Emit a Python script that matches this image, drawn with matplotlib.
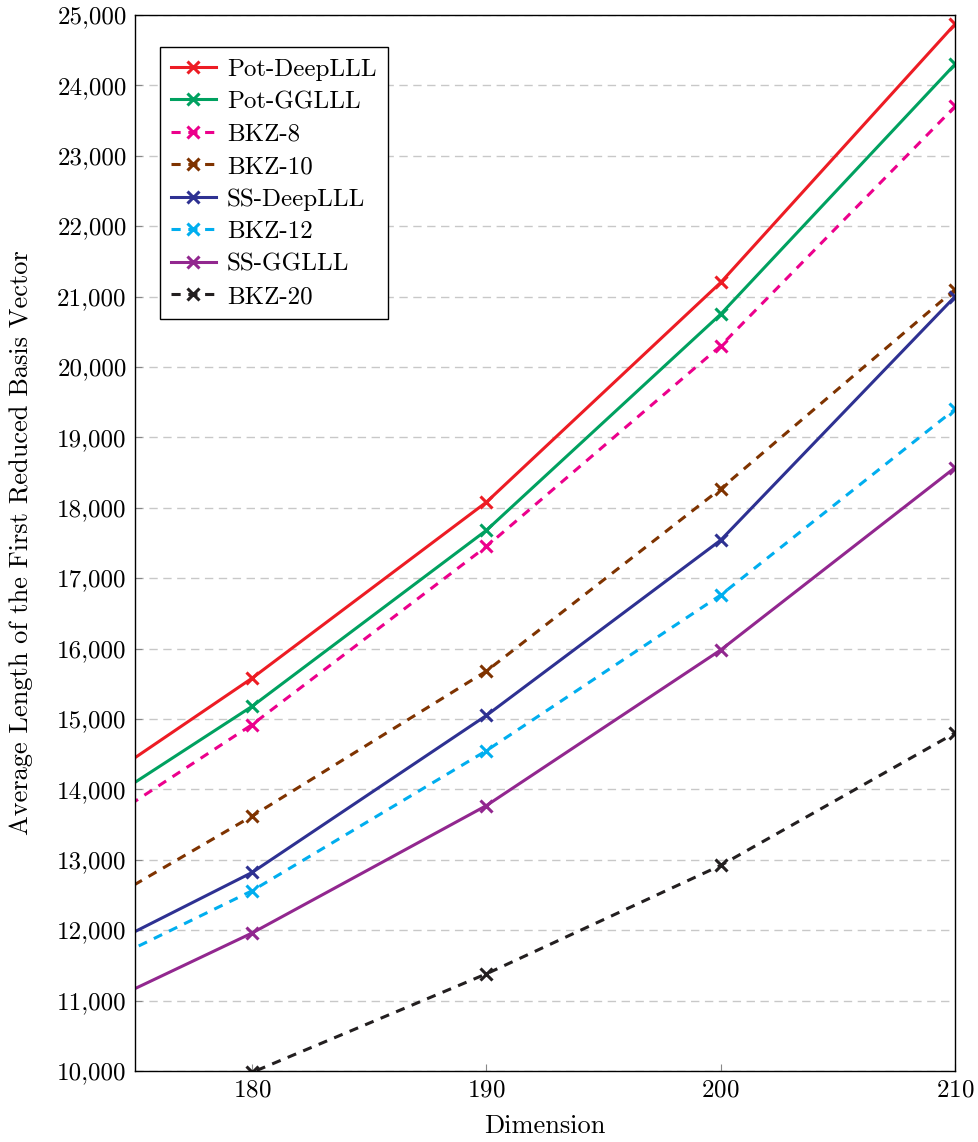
import matplotlib
matplotlib.use("Agg")
import matplotlib.pyplot as plt
from matplotlib.ticker import FuncFormatter

dims = [170, 180, 190, 200, 210]
labels = ["Pot-DeepLLL", "Pot-GGLLL", "BKZ-8", "BKZ-10", "SS-DeepLLL", "BKZ-12", "SS-GGLLL", "BKZ-20"]
pot_deeplll = [13320, 15580, 18080, 21200, 24870]
pot_gglll = [13020, 15180, 17680, 20750, 24300]
bkz8 = [12740, 14920, 17450, 20300, 23700]
bkz10 = [11680, 13620, 15680, 18270, 21100]
ss_deeplll = [11140, 12820, 15050, 17540, 21000]
bkz12 = [10940, 12560, 14550, 16760, 19400]
ss_gglll = [10380, 11960, 13770, 15980, 18570]
bkz20 = [8700, 9980, 11380, 12920, 14800]

series = [pot_deeplll, pot_gglll, bkz8, bkz10, ss_deeplll, bkz12, ss_gglll, bkz20]
colors = ["#ED1C24", "#00A160", "#EC008C", "#7F3300", "#2E3192", "#00AEEF", "#92278F", "#231F20"]
styles = ["-", "-", "--", "--", "-", "--", "-", "--"]

plt.rcParams['font.family'] = ['cmr10', 'DejaVu Serif']
plt.rcParams['axes.formatter.use_mathtext'] = True
plt.rcParams['mathtext.fontset'] = 'cm'

fig = plt.figure(figsize=(9.79, 11.42), dpi=100)
ax = fig.add_axes([0.1379, 0.0622, 0.9755 - 0.1379, 0.9869 - 0.0622])

for y, lab, c, ls in zip(series, labels, colors, styles):
    kw = dict(dashes=(3, 2.5)) if ls == "--" else {}
    ax.plot(dims, y, color=c, linestyle=ls, linewidth=2.2, marker='x', markersize=9,
            markeredgewidth=2.2, label=lab, **kw)

ax.set_xlim(175, 210)
ax.set_ylim(10000, 25000)
ax.set_xticks([180, 190, 200, 210])
ax.set_yticks(range(10000, 25001, 1000))
ax.yaxis.set_major_formatter(FuncFormatter(lambda v, p: f"{int(v):,}"))
ax.grid(axis='y', linestyle=(0, (6, 4)), color='#c8c8c8', linewidth=1)
ax.set_axisbelow(True)
ax.tick_params(direction='in', labelsize=18, length=5, color='#888888', pad=6)
for s in ax.spines.values():
    s.set_linewidth(1)
ax.set_xlabel("Dimension", fontsize=19, labelpad=9)
ax.set_ylabel("Average Length of the First Reduced Basis Vector", fontsize=19, labelpad=17)

leg = ax.legend(loc='upper left', bbox_to_anchor=(0.03, 0.9697), fontsize=18, fancybox=False,
                edgecolor='black', framealpha=1, handlelength=1.8, borderpad=0.45,
                labelspacing=0.4, handletextpad=0.45, borderaxespad=0)
leg.get_frame().set_linewidth(1)

fig.savefig("out.png", dpi=100)
